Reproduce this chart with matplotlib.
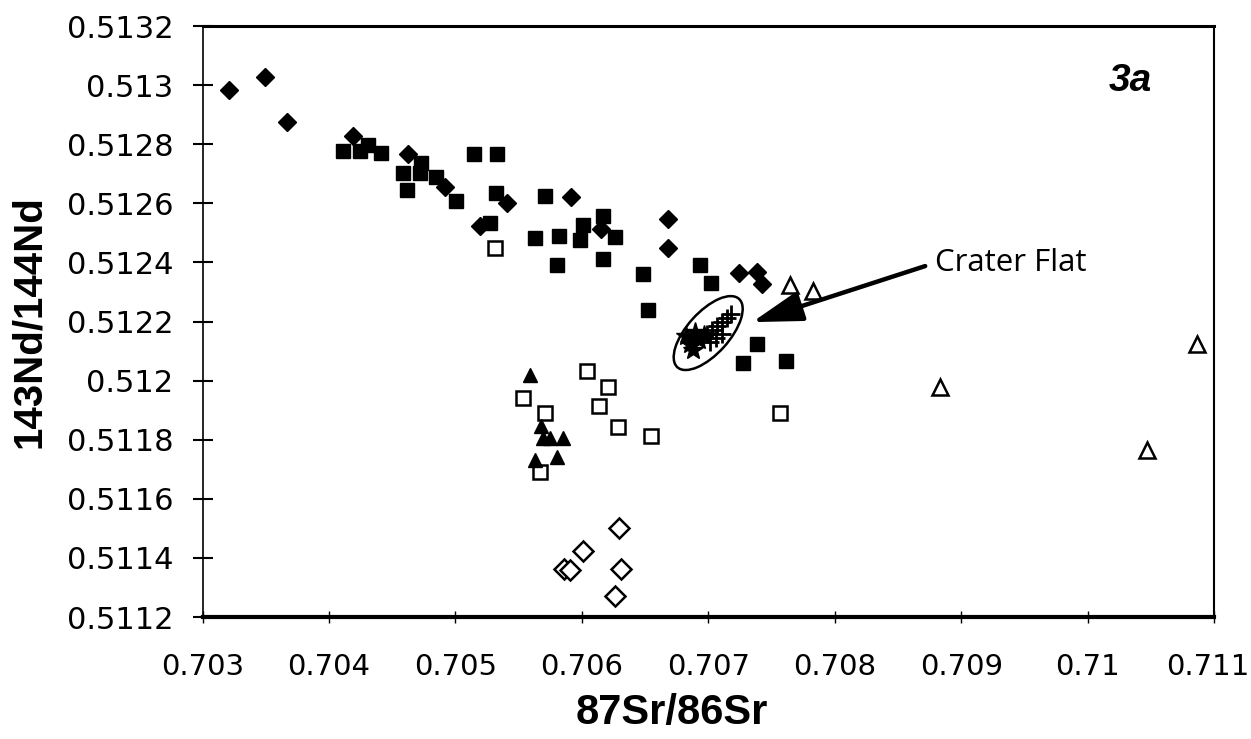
import matplotlib
matplotlib.use("Agg")
import matplotlib.pyplot as plt
from matplotlib.patches import Ellipse
import matplotlib.transforms as mtransforms

# ---- data ----
fdiam_x = [0.703211, 0.703494, 0.703665, 0.704192, 0.704627, 0.704918, 0.705195, 0.705406,
           0.705915, 0.706150, 0.706684, 0.706684, 0.707246, 0.707384, 0.707423]
fdiam_y = [0.512983, 0.513026, 0.512874, 0.512828, 0.512766, 0.512656, 0.512523, 0.512602,
           0.512622, 0.512514, 0.512548, 0.512448, 0.512363, 0.512369, 0.512327]

fsq_x = [0.704113, 0.704245, 0.704311, 0.704411, 0.704588, 0.704720, 0.704725, 0.704615,
         0.704847, 0.705005, 0.705147, 0.705327, 0.705321, 0.705274, 0.705709, 0.705630,
         0.705822, 0.706012, 0.705986, 0.706165, 0.706263, 0.705801, 0.706165, 0.706482,
         0.706526, 0.706935, 0.707020, 0.707384, 0.707278, 0.707616]
fsq_y = [0.512778, 0.512778, 0.512797, 0.512769, 0.512704, 0.512702, 0.512735, 0.512645,
         0.512688, 0.512608, 0.512767, 0.512767, 0.512634, 0.512534, 0.512625, 0.512482,
         0.512489, 0.512527, 0.512476, 0.512557, 0.512485, 0.512391, 0.512411, 0.512361,
         0.512239, 0.512391, 0.512331, 0.512123, 0.512061, 0.512066]

osq_x = [0.706039, 0.705537, 0.705709, 0.706205, 0.706138, 0.706284, 0.706547, 0.705669,
         0.705313, 0.707568]
osq_y = [0.512034, 0.511940, 0.511891, 0.511979, 0.511914, 0.511844, 0.511813, 0.511692,
         0.512448, 0.511889]

ftri_x = [0.705590, 0.705677, 0.705695, 0.705748, 0.705849, 0.705630, 0.705806]
ftri_y = [0.512019, 0.511846, 0.511805, 0.511805, 0.511805, 0.511731, 0.511740]

odiam_x = [0.706294, 0.706012, 0.705859, 0.705907, 0.706308, 0.706263]
odiam_y = [0.511502, 0.511423, 0.511361, 0.511359, 0.511361, 0.511272]

otri_x = [0.707647, 0.707831, 0.708834, 0.710865, 0.710469]
otri_y = [0.512324, 0.512304, 0.511979, 0.512124, 0.511765]

# Crater Flat samples
cf_star_x = [0.706824, 0.706856, 0.706896, 0.706928, 0.706880, 0.706968]
cf_star_y = [0.512151, 0.512124, 0.512164, 0.512137, 0.512104, 0.512154]
cf_plus_x = [0.706990, 0.707030, 0.707069, 0.707109, 0.707148, 0.707180,
             0.707014, 0.707061, 0.707109]
cf_plus_y = [0.512158, 0.512171, 0.512185, 0.512198, 0.512212, 0.512225,
             0.512131, 0.512144, 0.512158]

x_ticks = [0.703, 0.704, 0.705, 0.706, 0.707, 0.708, 0.709, 0.710, 0.711]
x_labels = ["0.703", "0.704", "0.705", "0.706", "0.707", "0.708", "0.709", "0.71", "0.711"]
y_ticks = [0.5112, 0.5114, 0.5116, 0.5118, 0.5120, 0.5122, 0.5124, 0.5126, 0.5128, 0.5130, 0.5132]
y_labels = ["0.5112", "0.5114", "0.5116", "0.5118", "0.512", "0.5122", "0.5124",
            "0.5126", "0.5128", "0.513", "0.5132"]

# ---- figure ----
fig = plt.figure(figsize=(12.51, 7.39), dpi=100)
ax = fig.add_axes([0.162, 0.165, 0.8084, 0.7998])

ax.plot(fdiam_x, fdiam_y, 'D', ms=9.5, color='black', mec='black', ls='none')
ax.plot(fsq_x, fsq_y, 's', ms=10, color='black', mec='black', ls='none')
ax.plot(osq_x, osq_y, 's', ms=10, mfc='white', mec='black', mew=1.8, ls='none')
ax.plot(ftri_x, ftri_y, '^', ms=10, color='black', ls='none')
ax.plot(odiam_x, odiam_y, 'D', ms=10, mfc='white', mec='black', mew=1.8, ls='none')
ax.plot(otri_x, otri_y, '^', ms=11, mfc='white', mec='black', mew=1.8, ls='none')
ax.plot(cf_star_x, cf_star_y, '*', ms=15, color='black', ls='none')
ax.plot(cf_plus_x, cf_plus_y, '+', ms=13, mew=2, color='black', ls='none')

# ellipse around Crater Flat (drawn in inches around a data point)
tr = fig.dpi_scale_trans + mtransforms.ScaledTranslation(0.706999, 0.512161, ax.transData)
ell = Ellipse((0, 0), width=0.92, height=0.42, angle=48, transform=tr,
              fill=False, ec='black', lw=1.8)
ax.add_patch(ell)

ax.annotate("Crater Flat", xy=(0.707347, 0.512198), xytext=(0.708790, 0.512398),
            fontsize=22.5, family=['Open Sans', 'DejaVu Sans'], ha='left', va='center',
            arrowprops=dict(arrowstyle='-|>,head_length=1.4,head_width=0.42',
                            lw=3.2, color='black', shrinkA=5, shrinkB=0,
                            mutation_scale=22, relpos=(0.0, 0.5)))

ax.text(0.917, 0.907, "3a", transform=ax.transAxes, fontsize=28,
        fontweight='bold', fontstyle='italic', family=['Liberation Sans', 'DejaVu Sans'],
        ha='center', va='center')

ax.set_xlim(0.703, 0.711)
ax.set_ylim(0.5112, 0.5132)
ax.set_xticks(x_ticks)
ax.set_xticklabels(x_labels)
ax.set_yticks(y_ticks)
ax.set_yticklabels(y_labels)

ax.tick_params(axis='y', direction='inout', length=14, width=1.5, pad=14)
ax.tick_params(axis='x', direction='inout', length=8, width=1, pad=22)

for lab in ax.get_xticklabels():
    lab.set_fontsize(21)
    lab.set_family('DejaVu Sans')
for lab in ax.get_yticklabels():
    lab.set_fontsize(22)
    lab.set_family('DejaVu Sans')

# nudge the last x tick label so it stays inside the canvas
last = ax.get_xticklabels()[-1]
last.set_transform(last.get_transform() +
                   mtransforms.ScaledTranslation(-0.06, 0, fig.dpi_scale_trans))

ax.spines['left'].set_linewidth(1.2)
ax.spines['bottom'].set_linewidth(3)
ax.spines['top'].set_linewidth(2.2)
ax.spines['right'].set_linewidth(1.5)

ax.set_xlabel("87Sr/86Sr", fontsize=30, fontweight='bold',
              family=['Liberation Sans', 'DejaVu Sans'])
ax.set_ylabel("143Nd/144Nd", fontsize=29, fontweight='bold',
              family=['Liberation Sans', 'DejaVu Sans'])
ax.xaxis.set_label_coords(0.464, -0.128)
ax.yaxis.set_label_coords(-0.153, 0.5)

fig.savefig("out.png", dpi=100)
